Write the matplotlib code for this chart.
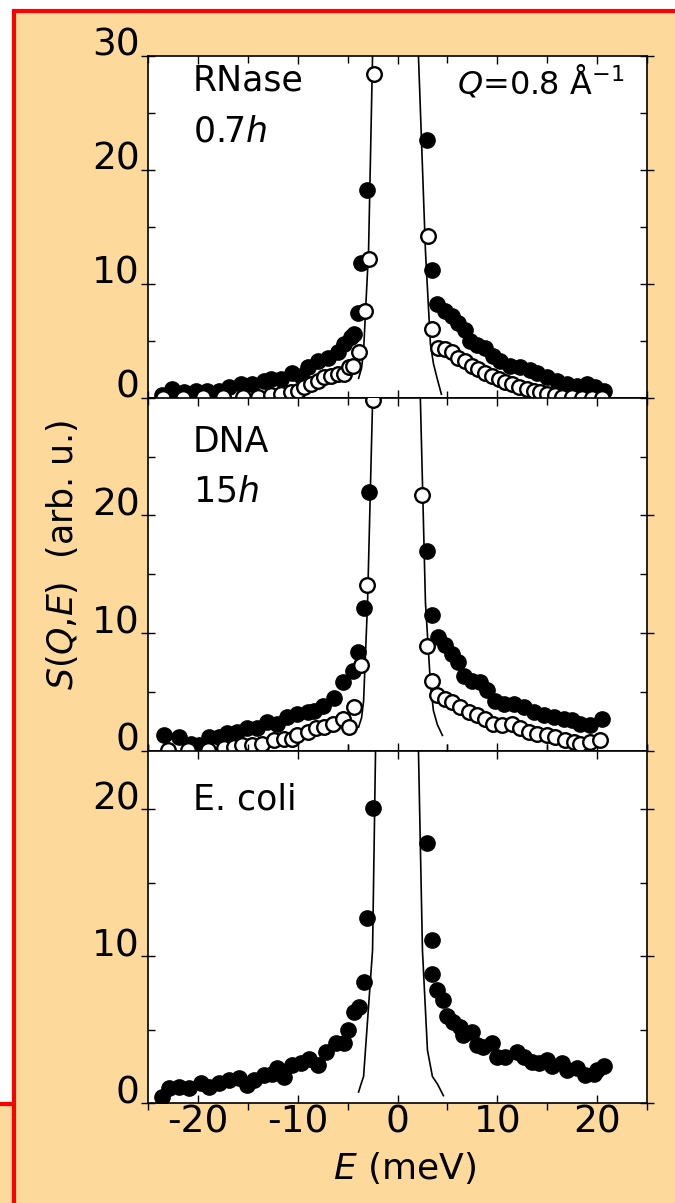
import matplotlib
matplotlib.use("Agg")
import matplotlib.pyplot as plt
from matplotlib.lines import Line2D
from matplotlib.patches import Rectangle
from matplotlib.ticker import MultipleLocator, FixedLocator

plt.rcParams['font.family'] = ['DejaVu Sans']
plt.rcParams['mathtext.fontset'] = 'dejavusans'

# ---------------- data ----------------
# RNase 0.7 h
rn_full_E = [-23.6, -22.6, -21.4, -20.2, -19.1, -17.9, -16.9, -15.7, -14.6, -13.4, -12.7, -11.7,
             -10.6, -9.7, -9.0, -8.0, -7.0, -6.0, -5.4, -4.7, -4.4, -4.0, -3.7, -3.1,
             3.0, 3.5, 4.0, 4.8, 5.5, 6.1, 6.8, 7.3, 8.0, 8.8, 9.6, 10.3, 11.3, 12.3, 13.3,
             14.0, 15.0, 16.0, 17.0, 18.0, 19.0, 19.8, 20.7]
rn_full_S = [0.26, 0.76, 0.47, 0.6, 0.6, 0.6, 0.97, 1.2, 1.2, 1.5, 1.6, 1.6,
             2.2, 1.9, 2.7, 3.25, 3.5, 4.0, 4.7, 5.3, 5.6, 7.4, 11.8, 18.2,
             22.6, 11.2, 8.2, 7.65, 7.2, 6.6, 5.9, 5.0, 4.6, 4.4, 3.7, 3.25, 2.8, 2.7, 2.4,
             2.2, 1.8, 1.5, 1.2, 1.05, 1.2, 0.9, 0.6]
rn_open_E = [-23.5, -21.5, -19.5, -17.5, -15.5, -14.0, -12.7, -11.7, -10.7, -10.0, -9.4, -8.7,
             -8.0, -7.4, -6.7, -6.0, -5.4, -4.9, -4.5, -3.9, -3.3, -2.9, -2.4,
             3.1, 3.5, 4.1, 4.8, 5.5, 6.1, 6.8, 7.5, 8.1, 8.8, 9.5, 10.2, 10.8, 11.5, 12.2,
             13.0, 13.7, 14.3, 15.0, 15.8, 16.5, 17.5, 18.5, 19.5, 20.5]
rn_open_S = [0.0, 0.0, 0.05, 0.05, 0.1, 0.1, 0.2, 0.3, 0.5, 0.6, 0.9, 1.2,
             1.5, 1.8, 1.9, 2.1, 2.1, 2.7, 2.8, 4.0, 7.65, 12.2, 28.4,
             14.2, 6.0, 4.4, 4.3, 4.0, 3.5, 3.25, 2.8, 2.5, 2.2, 1.9, 1.6, 1.35, 1.2, 0.9,
             0.75, 0.6, 0.5, 0.3, 0.2, 0.1, 0.05, 0.0, 0.0, 0.0]
rn_res_left_E = [-3.9, -3.6, -3.4, -2.9, -2.5, -2.2]
rn_res_left_S = [1.7, 2.6, 4.1, 12.9, 30.0, 40.0]
rn_res_right_E = [1.9, 2.1, 2.8, 3.3, 3.6, 4.0, 4.4]
rn_res_right_S = [40.0, 30.0, 12.9, 4.7, 3.0, 1.6, 0.3]

# DNA 15 h
dna_full_E = [-23.4, -21.9, -20.7, -19.9, -18.9, -17.9, -17.1, -16.1, -15.1, -14.1, -13.1, -12.1,
              -11.1, -10.1, -9.0, -8.4, -7.5, -6.4, -5.5, -4.5, -4.0, -3.4, -2.9,
              3.0, 3.5, 4.1, 4.8, 5.5, 6.1, 6.7, 7.5, 8.3, 9.0, 9.8, 10.7, 11.7, 12.7, 13.7,
              14.7, 15.7, 16.7, 17.5, 18.3, 19.3, 20.5]
dna_full_S = [1.3, 1.2, 0.6, 0.5, 1.2, 1.2, 1.5, 1.6, 1.9, 1.9, 2.4, 2.3,
              2.85, 3.1, 3.3, 3.4, 3.8, 4.5, 5.8, 6.8, 8.4, 12.1, 22.0,
              17.0, 11.5, 9.7, 9.0, 8.2, 7.5, 6.35, 5.9, 5.8, 5.2, 4.25, 4.0, 4.0, 3.7, 3.3,
              3.0, 2.85, 2.7, 2.6, 2.3, 2.15, 2.7]
dna_open_E = [-23.0, -21.0, -19.0, -17.4, -16.4, -15.6, -14.6, -13.6, -12.4, -11.4, -10.6, -10.1,
              -9.0, -8.2, -7.4, -6.5, -5.5, -4.9, -4.4, -3.7, -3.1, -2.5,
              2.5, 3.0, 3.5, 4.0, 4.8, 5.5, 6.3, 7.2, 8.0, 8.8, 9.6, 10.5, 11.5, 12.3, 13.2,
              14.0, 15.0, 15.8, 16.8, 17.7, 18.3, 19.3, 20.3]
dna_open_S = [0.1, 0.1, 0.1, 0.2, 0.3, 0.5, 0.5, 0.6, 0.9, 1.0, 1.0, 1.3,
              1.6, 1.9, 2.0, 2.3, 2.7, 2.0, 3.7, 7.3, 14.1, 29.8,
              21.7, 8.9, 5.9, 4.7, 4.4, 4.1, 3.7, 3.3, 3.0, 2.7, 2.3, 2.15, 2.3, 1.9, 1.6,
              1.45, 1.3, 1.2, 0.9, 0.75, 0.6, 0.75, 0.9]
dna_res_left_E = [-3.9, -3.6, -3.4, -3.0, -2.5, -2.2]
dna_res_left_S = [2.0, 2.8, 4.2, 12.6, 29.6, 40.0]
dna_res_right_E = [2.0, 2.3, 2.8, 3.3, 3.6, 4.0, 4.5]
dna_res_right_S = [40.0, 29.6, 12.6, 5.7, 3.4, 2.2, 1.3]

# E. coli
eco_E = [-23.6, -22.9, -21.9, -20.9, -19.7, -18.9, -17.9, -16.9, -15.9, -15.1, -14.4, -13.4,
         -12.6, -12.1, -11.4, -10.6, -9.7, -8.9, -8.0, -7.2, -6.2, -5.4, -5.0, -4.4, -3.9,
         -3.4, -3.1, -2.5,
         3.0, 3.5, 3.5, 4.0, 4.6, 5.0, 5.6, 6.3, 6.6, 7.5, 8.0, 8.6, 9.5, 10.0, 10.8, 12.0,
         12.7, 13.5, 14.2, 15.0, 15.5, 16.5, 17.0, 18.0, 18.8, 19.7, 20.0, 20.7]
eco_S = [0.43, 1.0, 1.1, 1.0, 1.34, 1.1, 1.34, 1.56, 1.68, 1.22, 1.56, 1.9,
         2.0, 2.36, 1.8, 2.6, 2.7, 3.0, 2.6, 3.5, 4.06, 4.06, 5.0, 6.2, 6.55,
         8.25, 12.6, 20.1,
         17.7, 11.1, 8.8, 7.7, 7.0, 5.9, 5.5, 5.2, 4.6, 4.85, 3.95, 3.8, 4.06, 3.15, 3.15, 3.5,
         3.15, 2.8, 2.7, 2.9, 2.5, 2.7, 2.24, 2.36, 1.9, 2.0, 2.24, 2.5]
eco_res_left_E = [-3.9, -3.6, -3.4, -2.5, -2.2, -2.0]
eco_res_left_S = [0.75, 1.4, 1.8, 10.4, 24.0, 30.0]
eco_res_right_E = [2.0, 2.1, 2.5, 3.0, 3.5, 4.0, 4.6]
eco_res_right_S = [30.0, 24.0, 10.4, 3.6, 1.8, 1.3, 0.5]

x_ticks = [-20, -10, 0, 10, 20]
x_ticklabels = ['-20', '-10', '0', '10', '20']

# ---------------- figure ----------------
W, H = 675, 1203
fig = plt.figure(figsize=(W / 100, H / 100), dpi=100)
fig.patch.set_facecolor('white')

bg = '#FDDA9B'
red = '#FF0000'
fig.patches.append(Rectangle((14 / W, 0), 1 - 14 / W, 1 - 10 / H, transform=fig.transFigure,
                             facecolor=bg, edgecolor='none', zorder=-10))
fig.patches.append(Rectangle((0, 0), 14 / W, 1 - 1104 / H, transform=fig.transFigure,
                             facecolor=bg, edgecolor='none', zorder=-10))
lw_red = 3.0
for xs, ys in [([12 / W, 1], [1 - 10.5 / H, 1 - 10.5 / H]),
               ([14 / W, 14 / W], [0, 1 - 8.5 / H]),
               ([0, 14 / W], [1 - 1104 / H, 1 - 1104 / H])]:
    fig.add_artist(Line2D(xs, ys, color=red, lw=lw_red, transform=fig.transFigure,
                          solid_capstyle='butt', zorder=-5))

left_px, right_px = 148, 647
panels_px = [(56, 397.7), (397.7, 750.7), (750.7, 1103)]
axes = []
for top_px, bot_px in panels_px:
    ax = fig.add_axes([left_px / W, 1 - bot_px / H, (right_px - left_px) / W, (bot_px - top_px) / H])
    ax.set_facecolor('white')
    ax.set_zorder(1)
    axes.append(ax)

tick_fs = 27
fill_kw = dict(marker='o', ms=11, mfc='black', mec='black', ls='none', zorder=3, clip_on=True)
open_kw = dict(fmt='o', ms=10.5, mfc='white', mec='black', mew=1.7, ecolor='black',
               elinewidth=1.0, capsize=0, zorder=4)


def style_axis(ax, ylim, ylabels, show_x):
    ax.set_xlim(-25, 25)
    ax.set_ylim(*ylim)
    ax.xaxis.set_major_locator(FixedLocator(x_ticks))
    ax.xaxis.set_minor_locator(MultipleLocator(5))
    ax.yaxis.set_major_locator(FixedLocator(ylabels))
    ax.yaxis.set_minor_locator(MultipleLocator(5))
    ax.tick_params(which='both', direction='in', top=True, right=True, width=1.0)
    ax.tick_params(which='major', length=6)
    ax.tick_params(which='minor', length=5)
    ax.tick_params(axis='y', which='major', direction='inout', length=10, pad=1)
    ax.set_yticklabels([str(v) for v in ylabels], fontsize=tick_fs)
    for lab in ax.get_yticklabels():
        lab.set_verticalalignment('baseline')
    if show_x:
        ax.set_xticklabels(x_ticklabels, fontsize=tick_fs)
        ax.tick_params(axis='x', which='major', pad=1)
        ax.tick_params(axis='x', which='minor', direction='out', length=5)
    else:
        ax.set_xticklabels([])
    for sp in ax.spines.values():
        sp.set_linewidth(1.2)


# RNase
ax = axes[0]
ax.plot(rn_res_left_E, rn_res_left_S, color='black', lw=1.2, zorder=2)
ax.plot(rn_res_right_E, rn_res_right_S, color='black', lw=1.2, zorder=2)
ax.plot(rn_full_E, rn_full_S, **fill_kw)
ax.errorbar(rn_open_E, rn_open_S, yerr=0.45, **open_kw)
style_axis(ax, (0, 30), [0, 10, 20, 30], False)
ax.text(-20.5, 29.3, 'RNase', fontsize=25, va='top', ha='left')
ax.text(-20.5, 24.9, '0.7$h$', fontsize=25, va='top', ha='left')
ax.text(6.0, 29.3, '$Q$=0.8 Å$^{-1}$', fontsize=23, va='top', ha='left')

# DNA
ax = axes[1]
ax.plot(dna_res_left_E, dna_res_left_S, color='black', lw=1.2, zorder=2)
ax.plot(dna_res_right_E, dna_res_right_S, color='black', lw=1.2, zorder=2)
ax.plot(dna_full_E, dna_full_S, **fill_kw)
ax.errorbar(dna_open_E, dna_open_S, yerr=0.45, **open_kw)
style_axis(ax, (0, 30), [0, 10, 20], False)
ax.text(-20.5, 27.7, 'DNA', fontsize=25, va='top', ha='left')
ax.text(-20.5, 23.5, '15$h$', fontsize=25, va='top', ha='left')

# E. coli
ax = axes[2]
ax.plot(eco_res_left_E, eco_res_left_S, color='black', lw=1.2, zorder=2)
ax.plot(eco_res_right_E, eco_res_right_S, color='black', lw=1.2, zorder=2)
ax.plot(eco_E, eco_S, **fill_kw)
style_axis(ax, (0, 24), [0, 10, 20], True)
ax.text(-20.5, 21.8, 'E. coli', fontsize=25, va='top', ha='left')

fig.text(62 / W, 1 - 555 / H, '$S$($Q$,$E$)  (arb. u.)', rotation=90, fontsize=25,
         ha='center', va='center')
fig.text(405 / W, 1 - 1168 / H, '$E$ (meV)', fontsize=26, ha='center', va='center')

fig.savefig('out.png', dpi=100, facecolor=fig.get_facecolor())
